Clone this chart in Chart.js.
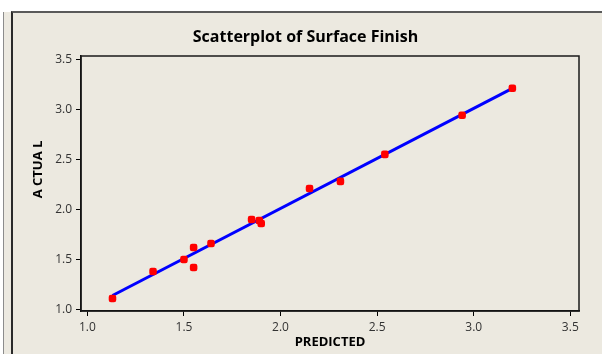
<!DOCTYPE html>
<html>
<head>
<meta charset="utf-8">
<title>Scatterplot of Surface Finish</title>
<script src="https://cdn.jsdelivr.net/npm/chart.js@4.4.1/dist/chart.umd.min.js"></script>
<style>
  html, body { margin: 0; padding: 0; background: #ffffff; }
  #wrap { position: relative; width: 602px; height: 354px; overflow: hidden; }
  #strip { position: absolute; left: 3px; top: 12px; width: 8px; bottom: 0; background: #ECE9E0; border-left: 1px solid #8c8c8c; }
  #panel { position: absolute; left: 11px; top: 11px; right: 0; bottom: 0; background: #ECE9E0; border-left: 2px solid #2a2a2a; border-top: 2px solid #5a5a5a; }
  canvas { position: absolute; left: 0; top: 0; }
</style>
</head>
<body>
<div id="wrap">
  <div id="strip"></div>
  <div id="panel"></div>
  <canvas id="chart" width="602" height="354"></canvas>
</div>
<script>
// Predicted vs. actual surface finish
const predicted = [1.13, 1.34, 1.50, 1.55, 1.55, 1.64, 1.85, 1.89, 1.90, 2.15, 2.31, 2.54, 2.94, 3.20];
const actual    = [1.11, 1.38, 1.50, 1.62, 1.42, 1.66, 1.90, 1.89, 1.86, 2.21, 2.28, 2.55, 2.94, 3.21];

// Fitted line end points
const fitX = [1.13, 3.20];
const fitY = [1.14, 3.21];

// Axis tick values
const xTicks = [1.0, 1.5, 2.0, 2.5, 3.0, 3.5];
const yTicks = [1.0, 1.5, 2.0, 2.5, 3.0, 3.5];

const chartTitle = 'Scatterplot of Surface Finish';
const xTitle = 'PREDICTED';
const yTitle = 'A CTUA L';

const pointData = predicted.map((p, i) => ({ x: p, y: actual[i] }));
const lineData = fitX.map((x, i) => ({ x: x, y: fitY[i] }));

const tickFont = { family: 'Open Sans', size: 12 };

// Frame round the plot area plus the rotated y caption
const framePlugin = {
  id: 'plotFrame',
  afterDraw(chart) {
    const { ctx, chartArea: a } = chart;
    ctx.save();
    ctx.strokeStyle = '#1a1a1a';
    ctx.lineWidth = 1.5;
    ctx.strokeRect(a.left, a.top, a.right - a.left, a.bottom - a.top);
    ctx.translate(38.5, 169.5);
    ctx.rotate(-Math.PI / 2);
    ctx.fillStyle = '#000';
    ctx.font = 'bold 13px "Open Sans"';
    ctx.textAlign = 'center';
    ctx.textBaseline = 'middle';
    ctx.fillText(yTitle, 0, 0);
    ctx.restore();
  }
};

new Chart(document.getElementById('chart'), {
  type: 'scatter',
  data: {
    datasets: [
      {
        label: 'fit',
        data: lineData,
        showLine: true,
        borderColor: '#0000FF',
        borderWidth: 3,
        pointRadius: 0,
        fill: false,
        order: 2
      },
      {
        label: 'observed',
        data: pointData,
        pointStyle: 'rectRounded',
        pointRadius: 4.4,
        backgroundColor: '#FF0000',
        borderColor: '#FF0000',
        borderWidth: 0,
        order: 1
      }
    ]
  },
  options: {
    responsive: false,
    animation: false,
    devicePixelRatio: 1,
    layout: { padding: { left: 9, right: 0, top: 0, bottom: 0 } },
    plugins: {
      legend: { display: false },
      tooltip: { enabled: false },
      title: {
        display: true,
        text: chartTitle,
        color: '#000',
        font: { family: 'Open Sans', size: 16, weight: 'bold' },
        padding: { top: 28, bottom: 8.8 }
      }
    },
    scales: {
      x: {
        type: 'linear',
        position: 'bottom',
        min: 0.967,
        max: 3.545,
        afterBuildTicks: s => { s.ticks = xTicks.map(v => ({ value: v })); },
        afterFit: s => { s.height = 43; },
        grid: { drawOnChartArea: false, drawTicks: true, tickLength: 5, color: '#000', lineWidth: 1 },
        border: { display: true, color: '#000', width: 1.5 },
        ticks: { autoSkip: false, maxRotation: 0, padding: 4, color: '#333', font: tickFont, callback: v => Number(v).toFixed(1) },
        title: { display: true, text: xTitle, color: '#000', font: { family: 'Open Sans', size: 13, weight: 'bold' }, padding: { top: 0, bottom: 4.2 } }
      },
      y: {
        type: 'linear',
        position: 'left',
        min: 0.985,
        max: 3.533,
        afterBuildTicks: s => { s.ticks = yTicks.map(v => ({ value: v })); },
        afterFit: s => { s.width = 72; },
        grid: { drawOnChartArea: false, drawTicks: true, tickLength: 5, color: '#000', lineWidth: 1 },
        border: { display: true, color: '#000', width: 1.5 },
        ticks: { autoSkip: false, padding: 4, color: '#333', font: tickFont, callback: v => Number(v).toFixed(1) }
      },
      spacer: {
        type: 'linear',
        position: 'right',
        display: true,
        afterFit: s => { s.width = 23; },
        grid: { display: false, drawTicks: false },
        border: { display: false },
        ticks: { display: false }
      }
    }
  },
  plugins: [framePlugin]
});
</script>
</body>
</html>
